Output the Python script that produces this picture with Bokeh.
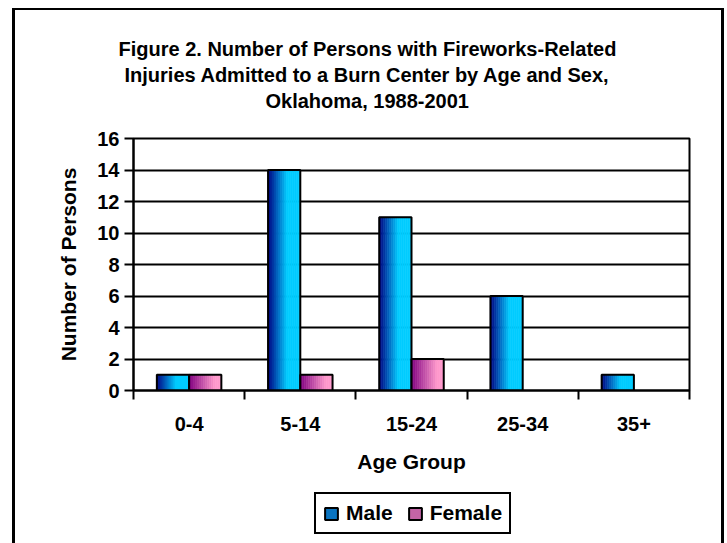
from bokeh.plotting import figure
from bokeh.layouts import column
from bokeh.models import (Range1d, FixedTicker, Legend, LegendItem, Title,
                          ColumnDataSource)
from bokeh.embed import file_html
from bokeh.resources import INLINE

# Fireworks-related burn-center admissions by age group and sex
categories = ["0-4", "5-14", "15-24", "25-34", "35+"]
male = [1, 14, 11, 6, 1]
female = [1, 1, 2, 0, 0]
y_ticks = [0, 2, 4, 6, 8, 10, 12, 14, 16]
title_lines = [
    "Figure 2. Number of Persons with Fireworks-Related",
    "Injuries Admitted to a Burn Center by Age and Sex,",
    "Oklahoma, 1988-2001",
]

FONT = "Liberation Sans"
n_cat = len(categories)
W = 727
H_MAIN = 490
H_LEG = 53

p = figure(width=W, height=H_MAIN,
           x_range=Range1d(0, n_cat), y_range=Range1d(0, 16),
           output_backend="svg", toolbar_location=None,
           title_location=None,
           min_border_left=133, min_border_right=38,
           min_border_top=138, min_border_bottom=H_MAIN - 390)
p.background_fill_color = "white"
p.border_fill_alpha = 0
p.outline_line_color = "black"
p.outline_line_width = 2

# --- axes ---------------------------------------------------------------
p.xaxis.ticker = FixedTicker(ticks=[i + 0.5 for i in range(n_cat)],
                             minor_ticks=list(range(n_cat + 1)))
p.xaxis.major_label_overrides = {i + 0.5: c for i, c in enumerate(categories)}
p.xaxis.major_tick_out = 0
p.xaxis.major_tick_in = 0
p.xaxis.minor_tick_out = 9
p.xaxis.minor_tick_in = 0
p.xaxis.minor_tick_line_width = 2
p.xaxis.minor_tick_line_color = "black"
p.xaxis.major_label_standoff = 17
p.xaxis.axis_label = "Age Group"
p.xaxis.axis_label_standoff = 16

p.yaxis.ticker = FixedTicker(ticks=y_ticks, minor_ticks=[])
p.yaxis.major_tick_out = 9
p.yaxis.major_tick_in = 0
p.yaxis.major_tick_line_width = 2
p.yaxis.major_label_standoff = 5
p.yaxis.axis_label = "Number of Persons"
p.yaxis.axis_label_standoff = 14

for ax in (p.xaxis, p.yaxis):
    ax.axis_line_color = "black"
    ax.axis_line_width = 2
    ax.major_tick_line_color = "black"
    ax.major_label_text_font = FONT
    ax.major_label_text_font_style = "bold"
    ax.major_label_text_font_size = "20px"
    ax.major_label_text_color = "black"
    ax.axis_label_text_font = FONT
    ax.axis_label_text_font_style = "bold"
    ax.axis_label_text_font_size = "21px"
    ax.axis_label_text_color = "black"

p.xgrid.grid_line_color = None
p.ygrid.grid_line_color = "black"
p.ygrid.grid_line_width = 2

# --- gradient bars (vertical strips) ------------------------------------
BAR_W = 0.29
N_STRIPS = 16


def strip_source(values, offset, c0, c1, ramp):
    xs, tops, cols = [], [], []
    for i, v in enumerate(values):
        if v <= 0:
            continue
        left = i + 0.5 + offset - BAR_W / 2
        for k in range(N_STRIPS):
            t = (k + 0.5) / N_STRIPS
            f = min(t / ramp, 1.0)
            rgb = [int(round(a + (b - a) * f)) for a, b in zip(c0, c1)]
            xs.append(left + (k + 0.5) * BAR_W / N_STRIPS)
            tops.append(v)
            cols.append("#%02x%02x%02x" % tuple(rgb))
    return ColumnDataSource(dict(x=xs, top=tops, color=cols))


def outline_source(values, offset):
    xs = [i + 0.5 + offset for i, v in enumerate(values) if v > 0]
    tops = [v for v in values if v > 0]
    return ColumnDataSource(dict(x=xs, top=tops))


series = [
    (male, -BAR_W / 2, (0, 0, 128), (0, 204, 255), 0.6),
    (female, BAR_W / 2, (128, 0, 128), (255, 153, 204), 0.8),
]
for vals, off, c0, c1, ramp in series:
    src = strip_source(vals, off, c0, c1, ramp)
    p.vbar(x="x", top="top", bottom=0, width=BAR_W / N_STRIPS * 1.08,
           source=src, fill_color="color", line_color="color", line_width=0.5)
    p.vbar(x="x", top="top", bottom=0, width=BAR_W,
           source=outline_source(vals, off),
           fill_color=None, line_color="black", line_width=2)

# --- title: spacer nearest the frame, then lines stacked upward ----------
p.add_layout(Title(text=" ", standoff=2, text_font=FONT,
                   text_font_size="20px"), "above")
for line, shift in zip(reversed(title_lines), [132, -9, -15]):
    p.add_layout(Title(text=line, align="left", offset=shift, standoff=2,
                       text_font=FONT, text_font_style="bold",
                       text_font_size="20px", text_color="black"), "above")

# --- legend strip below the chart ----------------------------------------
q = figure(width=W, height=H_LEG, x_range=Range1d(0, 1), y_range=Range1d(0, 1),
           output_backend="svg", toolbar_location=None, title_location=None,
           x_axis_location=None, y_axis_location=None, min_border=0)
q.background_fill_alpha = 0
q.border_fill_alpha = 0
q.outline_line_color = None
q.grid.visible = False

# swatch renderers carry no drawable bar (NaN height); only legend glyphs show
nan = float("nan")
r_m = q.vbar(x=[0.5], top=[nan], bottom=[nan], width=0.1,
             fill_color="#0a74c0", line_color="black", line_width=2)
r_f = q.vbar(x=[0.5], top=[nan], bottom=[nan], width=0.1,
             fill_color="#c464a6", line_color="black", line_width=2)
legend = Legend(items=[LegendItem(label="Male", renderers=[r_m]),
                       LegendItem(label="Female", renderers=[r_f])],
                orientation="horizontal", location=(181, 9),
                label_text_font=FONT, label_text_font_style="bold",
                label_text_font_size="21px", label_text_color="black",
                glyph_width=16, glyph_height=15, label_standoff=7,
                spacing=14, padding=7, margin=0,
                border_line_color="black", border_line_width=2,
                border_line_alpha=1,
                background_fill_color="white", background_fill_alpha=1)
q.add_layout(legend, "center")

# chart-area border, painted behind the transparent canvas margins
_line = "linear-gradient(#000,#000)"
layout = column(p, q, spacing=0)
layout.styles = {
    "background": (f"{_line} 12px 8px / 3px 600px no-repeat, "
                   f"{_line} 12px 8px / 712px 2px no-repeat, "
                   f"{_line} 721px 8px / 3px 600px no-repeat, #ffffff"),
}
open("out.html", "w").write(file_html(layout, INLINE))
